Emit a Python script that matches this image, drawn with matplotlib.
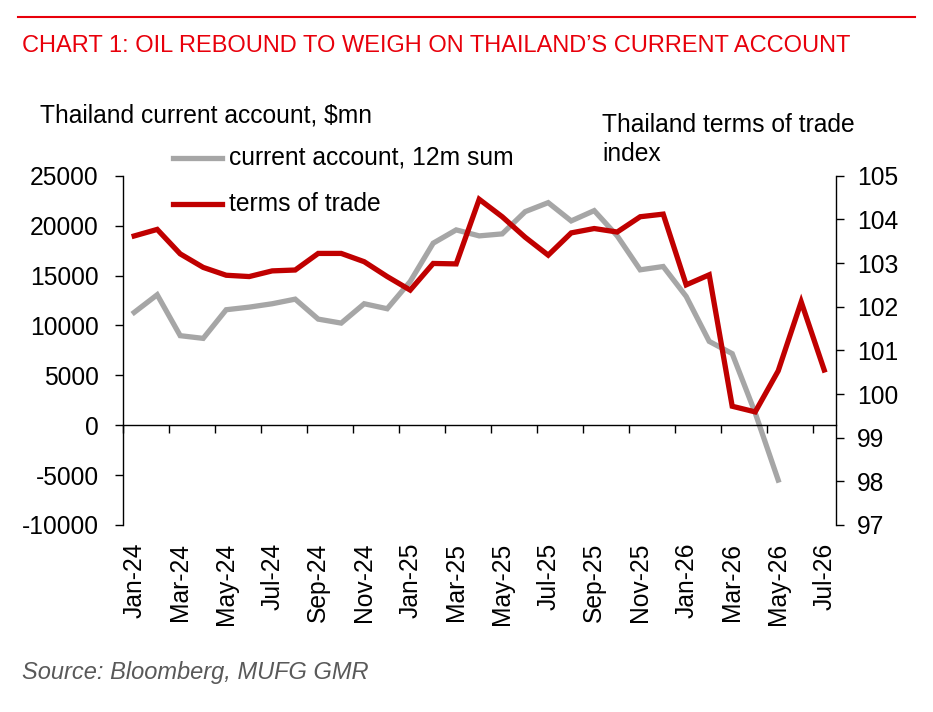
import matplotlib
matplotlib.use('Agg')
import matplotlib.pyplot as plt
from matplotlib.lines import Line2D
from matplotlib.ticker import FixedLocator, NullFormatter
import numpy as np

plt.rcParams['font.family'] = ['Liberation Sans', 'DejaVu Sans']

# data (monthly, Jan-24 .. Jul-26)
months = ['Jan-24', 'Feb-24', 'Mar-24', 'Apr-24', 'May-24', 'Jun-24', 'Jul-24', 'Aug-24',
          'Sep-24', 'Oct-24', 'Nov-24', 'Dec-24', 'Jan-25', 'Feb-25', 'Mar-25', 'Apr-25',
          'May-25', 'Jun-25', 'Jul-25', 'Aug-25', 'Sep-25', 'Oct-25', 'Nov-25', 'Dec-25',
          'Jan-26', 'Feb-26', 'Mar-26', 'Apr-26', 'May-26', 'Jun-26', 'Jul-26']

current_account = [11300, 13070, 8970, 8700, 11570, 11830, 12170, 12630,
                   10630, 10230, 12170, 11670, 14400, 18240, 19570, 18970,
                   19170, 21400, 22300, 20470, 21500, 18970, 15570, 15900,
                   12900, 8400, 7170, 1230, -5500]

terms_of_trade = [103.62, 103.77, 103.21, 102.90, 102.72, 102.69, 102.82, 102.84,
                  103.22, 103.22, 103.03, 102.69, 102.38, 102.99, 102.98, 104.46,
                  104.06, 103.59, 103.18, 103.69, 103.79, 103.71, 104.06, 104.12,
                  102.50, 102.73, 99.72, 99.59, 100.53, 102.11, 100.55]

left_ticks = [-10000, -5000, 0, 5000, 10000, 15000, 20000, 25000]
right_ticks = [97, 98, 99, 100, 101, 102, 103, 104, 105]

GREY = '#A6A6A6'
DARKRED = '#C00000'
TITLE_RED = '#E8000B'
FS = 17.7

W, H = 933, 712
fig = plt.figure(figsize=(W / 100, H / 100), dpi=100)

def fx(px):
    return px / W

def fy(py):
    return 1 - py / H

# top rule + title
fig.add_artist(Line2D([fx(18), fx(915)], [fy(17), fy(17)], color=TITLE_RED, lw=1.5))
fig.text(fx(22), fy(46), "CHART 1: OIL REBOUND TO WEIGH ON THAILAND\u2019S CURRENT ACCOUNT",
         color=TITLE_RED, fontsize=17, va='center', ha='left')

ax_l, ax_r, ax_t, ax_b = 122.7, 835.7, 175.7, 525
ax = fig.add_axes([fx(ax_l), fy(ax_b), fx(ax_r - ax_l), fy(ax_t) - fy(ax_b)])
ax2 = ax.twinx()

x = np.arange(len(months))
ax2.plot(x[:len(terms_of_trade)], terms_of_trade, color=DARKRED, lw=3.8, solid_joinstyle='miter', zorder=3)
ax.plot(x[:len(current_account)], current_account, color=GREY, lw=3.8, solid_joinstyle='miter', zorder=2)
# grey line sits under the red one in the reference
ax.set_zorder(ax2.get_zorder() - 1)
ax2.patch.set_visible(False)

ax.set_xlim(-0.5, len(months) - 0.5)
ax.set_ylim(-10000, 25000)
ax2.set_ylim(97, 105)

for a in (ax, ax2):
    a.spines['top'].set_visible(False)
ax2.spines['bottom'].set_visible(False)
ax2.spines['left'].set_visible(False)
ax.spines['right'].set_visible(False)
ax.spines['bottom'].set_position(('data', 0))
for s in ('left', 'bottom'):
    ax.spines[s].set_linewidth(1.0)
ax2.spines['right'].set_linewidth(1.0)

ax.set_yticks(left_ticks)
ax.set_yticklabels([str(v) for v in left_ticks])
ax2.set_yticks(right_ticks)
ax2.set_yticklabels([str(v) for v in right_ticks])
ax.tick_params(axis='y', direction='out', length=5.5, width=1, pad=11.8, labelsize=FS)
ax2.tick_params(axis='y', direction='out', length=5.5, width=1, pad=9.8, labelsize=FS)

# x axis on the zero line: boundary ticks every 2 months, no labels
ax.xaxis.set_major_locator(FixedLocator(np.arange(-0.5, len(months) - 0.5, 2)))
ax.xaxis.set_major_formatter(NullFormatter())
ax.tick_params(axis='x', direction='out', length=5.5, width=1)

# month labels along the bottom
sec = ax.secondary_xaxis('bottom')
sec.set_xticks(x[::2])
sec.set_xticklabels(months[::2], rotation=90, va='top', ha='center')
sec.tick_params(axis='x', length=0, pad=12.7, labelsize=FS)
sec.spines['bottom'].set_visible(False)

# axis titles
fig.text(fx(40), fy(116), "Thailand current account, $mn", fontsize=FS, va='center', ha='left')
fig.text(fx(602), fy(139.5), "Thailand terms of trade\nindex", fontsize=FS, va='center', ha='left',
         linespacing=1.25)

# legend
leg_x0, leg_x1, leg_tx = 173, 222, 229
for py, col, lab in [(158, GREY, "current account, 12m sum"), (204, DARKRED, "terms of trade")]:
    fig.add_artist(Line2D([fx(leg_x0), fx(leg_x1)], [fy(py), fy(py)], color=col, lw=3.8))
    fig.text(fx(leg_tx), fy(py), lab, fontsize=FS, va='center', ha='left')

fig.text(fx(22), fy(673), "Source: Bloomberg, MUFG GMR", fontsize=17, style='italic',
         color='#595959', va='center', ha='left')

fig.savefig('out.png', dpi=100)
